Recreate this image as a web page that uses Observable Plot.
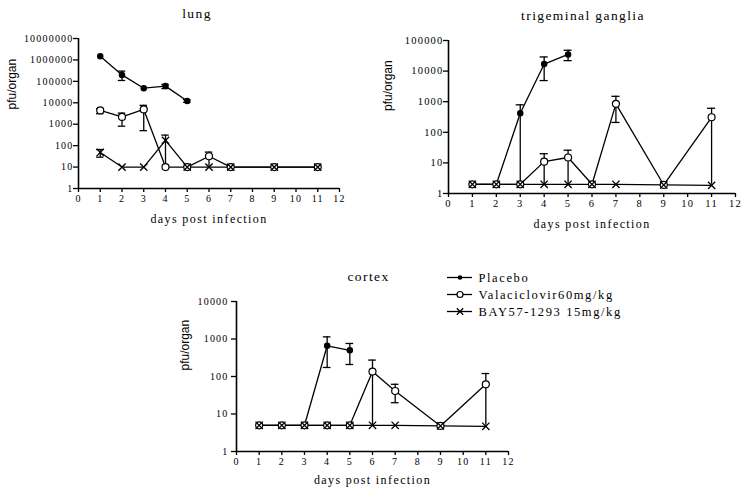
<!DOCTYPE html>
<html><head><meta charset="utf-8">
<script src="https://cdn.jsdelivr.net/npm/d3@7"></script>
<script src="https://cdn.jsdelivr.net/npm/@observablehq/plot@0.6"></script>
<style>
html,body{margin:0;padding:0;background:#fff;}
#root{position:relative;width:745px;height:490px;overflow:hidden;background:#fff;}
#root > div{position:absolute;}
svg text{letter-spacing:1.2px;}
</style></head><body><div id="root"></div>
<script>
// ---- data ----
const days = [1, 2, 3, 4, 5, 6, 7, 9, 11];
const placeboDays = [1, 2, 3, 4, 5];
const xTicks = [0, 1, 2, 3, 4, 5, 6, 7, 8, 9, 10, 11, 12];
const legendLabels = ["Placebo", "Valaciclovir60mg/kg", "BAY57-1293 15mg/kg"];

// lung
const lungTicks = [1, 10, 100, 1000, 10000, 100000, 1000000, 10000000];
const lungPlacebo   = [1.5e6, 2e5, 4.8e4, 6e4, 1.2e4];
const lungPlaceboLo = [null, 1.1e5, null, 4.6e4, 1.05e4];
const lungPlaceboHi = [null, 3e5, null, 7.2e4, 1.4e4];
const lungVala   = [4400, 2200, 4900, 10, 10, 32, 10, 10, 10];
const lungValaLo = [3100, 810, 500, null, null, 10, null, null, null];
const lungValaHi = [5300, 3300, 7600, null, null, 50, null, null, null];
const lungBay   = [48, 10, 10, 175, 10, 10, 10, 10, 10];
const lungBayLo = [29, null, null, 10, null, null, null, null, null];
const lungBayHi = [66, null, null, 310, null, null, null, null, null];

// trigeminal ganglia
const trigTicks = [1, 10, 100, 1000, 10000, 100000];
const trigPlacebo   = [2, 2, 420, 17000, 35000];
const trigPlaceboLo = [null, null, 2, 4900, 22000];
const trigPlaceboHi = [null, null, 790, 29000, 48000];
const trigVala   = [2, 2, 2, 11, 15, 2, 850, 1.9, 310];
const trigValaLo = [null, null, null, 2, 2, null, 210, null, 2];
const trigValaHi = [null, null, null, 20, 26, null, 1500, null, 610];
const trigBay    = [2, 2, 2, 2, 2, 2, 2, 1.9, 1.85];

// cortex
const cortexTicks = [1, 10, 100, 1000, 10000];
const cortexPlacebo   = [5, 5, 5, 660, 500];
const cortexPlaceboLo = [null, null, null, 174, 209];
const cortexPlaceboHi = [null, null, null, 1140, 760];
const cortexVala   = [5, 5, 5, 5, 5, 135, 41, 4.8, 62];
const cortexValaLo = [null, null, null, null, null, 5, 20, null, 5];
const cortexValaHi = [null, null, null, null, null, 274, 62, null, 120];
const cortexBay    = [5, 5, 5, 5, 5, 5, 5, 4.8, 4.7];

// ---- helpers ----
function rows(ds, vals, lo, hi) {
  return ds.map((d, i) => ({day: d, v: vals[i], lo: lo ? lo[i] : null, hi: hi ? hi[i] : null}));
}
const SERIF = "'Liberation Serif', 'DejaVu Serif', serif";
const SANS = "'Liberation Sans', Arial, sans-serif";

function panel(cfg) {
  const P = rows(placeboDays, cfg.placebo, cfg.placeboLo, cfg.placeboHi);
  const V = rows(days, cfg.vala, cfg.valaLo, cfg.valaHi);
  const B = rows(days, cfg.bay, cfg.bayLo, cfg.bayHi);
  const all = [...P, ...V, ...B];
  const err = all.filter(d => d.hi != null);
  const errLo = err.filter(d => d.lo != null && d.lo > cfg.base * 1.05);
  const capW = 0.17;
  const sw = 1.3;
  const plot = Plot.plot({
    width: cfg.width, height: cfg.height,
    marginLeft: cfg.ml, marginRight: cfg.mr, marginTop: cfg.mt, marginBottom: cfg.mb,
    style: {fontFamily: SERIF, fontSize: cfg.fs + "px", color: "black", background: "white"},
    x: {domain: [0, 12]},
    y: {type: "log", domain: [1, cfg.ticks[cfg.ticks.length - 1]]},
    marks: [
      Plot.axisX({ticks: xTicks, tickFormat: d => String(d), tickSize: 4, tickPadding: 2, label: null, strokeWidth: sw, fontSize: cfg.fs}),
      Plot.axisY({ticks: cfg.ticks, tickFormat: d => String(d), tickSize: 5, tickPadding: cfg.ypad, label: null, strokeWidth: sw, fontSize: cfg.fs}),
      Plot.ruleX([0], {stroke: "black", strokeWidth: 1.6}),
      Plot.ruleY([1], {stroke: "black", strokeWidth: 1.6}),
      Plot.line(P, {x: "day", y: "v", stroke: "black", strokeWidth: sw}),
      Plot.line(V, {x: "day", y: "v", stroke: "black", strokeWidth: sw}),
      Plot.line(B, {x: "day", y: "v", stroke: "black", strokeWidth: sw}),
      Plot.ruleX(err, {x: "day", y1: d => d.lo ?? d.v, y2: "hi", stroke: "black", strokeWidth: sw}),
      Plot.ruleY(err, {y: "hi", x1: d => d.day - capW, x2: d => d.day + capW, stroke: "black", strokeWidth: sw}),
      Plot.ruleY(errLo, {y: "lo", x1: d => d.day - capW, x2: d => d.day + capW, stroke: "black", strokeWidth: sw}),
      Plot.dot(P, {x: "day", y: "v", r: 2.5, fill: "black", stroke: "black", symbol: "circle"}),
      Plot.dot(V, {x: "day", y: "v", r: 3.5, fill: "white", stroke: "black", strokeWidth: 1.2, symbol: "circle"}),
      Plot.dot(B, {x: "day", y: "v", r: 3.4, stroke: "black", strokeWidth: 1.3, symbol: "times"}),
      Plot.text([cfg.title], {text: d => d, frameAnchor: "top", lineAnchor: "middle", dy: cfg.titleDy, dx: cfg.titleDx, fontSize: 13.5, fontFamily: SERIF, fill: "black"}),
      Plot.text(["days post infection"], {text: d => d, frameAnchor: "bottom", lineAnchor: "middle", dy: cfg.xlabDy, fontSize: 12, fontFamily: SERIF, fill: "black"}),
      Plot.text(["pfu/organ"], {text: d => d, frameAnchor: "left", lineAnchor: "middle", rotate: -90, dx: cfg.ylabDx, dy: cfg.ylabDy, fontSize: 12, fontFamily: SANS, fill: "black"})
    ]
  });
  d3.select(plot).selectAll("text").filter(function() { return this.textContent === cfg.title || this.textContent === "days post infection"; }).style("letter-spacing", "1.4px");
  d3.select(plot).selectAll("text").filter(function() { return this.textContent === "pfu/organ"; }).style("letter-spacing", "0px");
  const div = document.createElement("div");
  div.style.left = cfg.left + "px";
  div.style.top = cfg.top + "px";
  div.appendChild(plot);
  document.getElementById("root").appendChild(div);
}

panel({
  title: "lung", left: 0, top: 0, width: 345, height: 235, ml: 78, mr: 6, mt: 38, mb: 47, fs: 10, ypad: 0,
  ticks: lungTicks, base: 10,
  placebo: lungPlacebo, placeboLo: lungPlaceboLo, placeboHi: lungPlaceboHi,
  vala: lungVala, valaLo: lungValaLo, valaHi: lungValaHi,
  bay: lungBay, bayLo: lungBayLo, bayHi: lungBayHi,
  titleDy: -25, titleDx: -12, xlabDy: 31, ylabDx: -66, ylabDy: -4
});
panel({
  title: "trigeminal ganglia", left: 380, top: 0, width: 365, height: 235, ml: 68, mr: 10, mt: 40, mb: 42, fs: 10.5, ypad: 0,
  ticks: trigTicks, base: 2,
  placebo: trigPlacebo, placeboLo: trigPlaceboLo, placeboHi: trigPlaceboHi,
  vala: trigVala, valaLo: trigValaLo, valaHi: trigValaHi,
  bay: trigBay, bayLo: null, bayHi: null,
  titleDy: -25, titleDx: -9, xlabDy: 31, ylabDx: -60, ylabDy: -6
});
panel({
  title: "cortex", left: 160, top: 255, width: 355, height: 235, ml: 76, mr: 7, mt: 46, mb: 39, fs: 10, ypad: 3,
  ticks: cortexTicks, base: 5,
  placebo: cortexPlacebo, placeboLo: cortexPlaceboLo, placeboHi: cortexPlaceboHi,
  vala: cortexVala, valaLo: cortexValaLo, valaHi: cortexValaHi,
  bay: cortexBay, bayLo: null, bayHi: null,
  titleDy: -25, titleDx: -4, xlabDy: 29, ylabDx: -51, ylabDy: -6
});

// legend
(function () {
  const L = legendLabels.map((t, i) => ({label: t, kind: i}));
  const leg = Plot.plot({
    width: 300, height: 60, margin: 0,
    style: {fontFamily: SERIF, fontSize: "12px", color: "black", background: "white"},
    x: {domain: [0, 1], range: [7, 32], axis: null},
    y: {type: "point", domain: legendLabels, range: [12, 46], padding: 0, axis: null},
    marks: [
      Plot.ruleY(L, {y: "label", x1: 0, x2: 1, stroke: "black", strokeWidth: 1.3}),
      Plot.dot(L.filter(d => d.kind === 0), {y: "label", x: 0.5, r: 2.3, fill: "black", symbol: "circle"}),
      Plot.dot(L.filter(d => d.kind === 1), {y: "label", x: 0.5, r: 3, fill: "white", stroke: "black", strokeWidth: 1.2, symbol: "circle"}),
      Plot.dot(L.filter(d => d.kind === 2), {y: "label", x: 0.5, r: 3, stroke: "black", strokeWidth: 1.3, symbol: "times"}),
      Plot.text(L, {y: "label", x: 1, dx: 6, text: "label", textAnchor: "start", fontSize: 12.5, fill: "black"})
    ]
  });
  d3.select(leg).selectAll("text").style("letter-spacing", "1.6px");
  const div = document.createElement("div");
  div.style.left = "440px";
  div.style.top = "265px";
  div.appendChild(leg);
  document.getElementById("root").appendChild(div);
})();
</script></body></html>
